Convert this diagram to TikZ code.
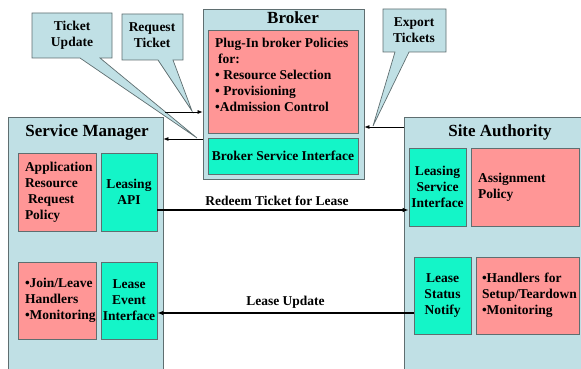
\documentclass[tikz,border=0pt]{standalone}
\usepackage{fontspec}
\setmainfont{Liberation Serif}
\usetikzlibrary{arrows.meta}
\definecolor{lblue}{RGB}{192,224,229}
\definecolor{pinkc}{RGB}{255,150,150}
\definecolor{greenc}{RGB}{20,245,200}
\definecolor{bord}{RGB}{95,110,112}
\begin{document}
\begin{tikzpicture}[x=1pt,y=-1pt,
  font=\bfseries\fontsize{13.5}{16}\selectfont,
  outer/.style={draw=bord, fill=lblue, line width=0.8pt, inner sep=0pt},
  pinkbox/.style={draw=bord, fill=pinkc, line width=0.6pt, align=left, inner xsep=7pt, inner ysep=0pt},
  greenbox/.style={draw=bord, fill=greenc, line width=0.6pt, align=center, inner sep=0pt},
  titletext/.style={font=\bfseries\fontsize{17}{20}\selectfont, inner sep=0pt},
  callout/.style={draw=bord, fill=lblue, line width=0.7pt, line join=miter},
  ctext/.style={align=center, inner sep=0pt},
  arr/.style={line width=1.2pt, -{Latex[length=6pt,width=4.5pt]}},
  thinarr/.style={line width=0.7pt, -{Latex[length=5pt,width=4pt]}},
  lbl/.style={inner sep=0pt}
]
\useasboundingbox (0,0) rectangle (581,369);

% outer boxes
\node[outer, minimum width=161pt, minimum height=170pt] (broker) at (283.5,94) {};
\node[outer, minimum width=155pt, minimum height=283pt] (sm) at (85.5,258.5) {};
\node[outer, minimum width=186pt, minimum height=283pt] (sa) at (497,258.5) {};

% titles
\node[titletext] (brokert) at (293,18) {Broker};
\node[titletext] (smt) at (87,132) {Service Manager};
\node[titletext] (sat) at (500,132) {Site Authority};

% broker inner
\node[pinkbox, minimum width=150pt, minimum height=103pt] (bpol) at (283,81.5) {};
\node[anchor=west, align=left, inner sep=0pt] (bpoltext) at (215,75)
  {Plug-In broker Policies\\\hspace{3pt}for:\\• Resource Selection\\• Provisioning\\•Admission Control};
\node[greenbox, minimum width=150pt, minimum height=36pt] (bsi) at (283,156) {Broker Service Interface};

% service manager inner
\node[pinkbox, minimum height=78pt, text width=64pt] (arp) at (57,192)
  {Application\\Resource\\\hspace{3pt}Request\\Policy};
\node[greenbox, minimum width=56pt, minimum height=78pt] (lapi) at (129,192) {Leasing\\API};
\node[pinkbox, minimum height=77pt, text width=64pt] (jlh) at (57,300.5)
  {•Join/Leave\\Handlers\\•Monitoring};
\node[greenbox, minimum width=56pt, minimum height=77pt] (lei) at (129,300.5) {Lease\\Event\\Interface};

% site authority inner
\node[greenbox, minimum width=57pt, minimum height=78pt] (lsi) at (437.5,187) {Leasing\\Service\\Interface};
\node[pinkbox, minimum height=78pt, text width=94pt] (asp) at (525,187) {Assignment\\Policy};
\node[greenbox, minimum width=57pt, minimum height=77pt] (lsn) at (442.5,295.5) {Lease\\Status\\Notify};
\node[pinkbox, minimum height=77pt, inner xsep=6pt, text width=91pt] (hst) at (527.5,295.5)
  {•Handlers for\\Setup/Teardown\\•Monitoring};

% callouts
\coordinate (tutip) at (197,138);
\coordinate (rttip) at (192,111);
\coordinate (ettip) at (373,126);
\filldraw[callout] (32,13) -- (112,13) -- (112,58) -- (100,58) -- (tutip) -- (80,58) -- (32,58) -- cycle;
\node[ctext] (tu) at (72,35) {Ticket\\Update};
\filldraw[callout] (122,14) -- (183,14) -- (183,60) -- (173,60) -- (rttip) -- (158,60) -- (122,60) -- cycle;
\node[ctext] (rt) at (152,35) {Request\\Ticket};
\filldraw[callout] (383,9) -- (446,9) -- (446,52) -- (409,52) -- (ettip) -- (395,52) -- (383,52) -- cycle;
\node[ctext] (et) at (414,30) {Export\\Tickets};

% connectors
\coordinate (reqs) at (165,112);
\draw[thinarr] (reqs) -- (reqs -| broker.west);
\draw[thinarr] ([yshift=-45pt]broker.west) coordinate (tu1) -- (tu1 -| sm.east);
\draw[thinarr] ([yshift=131.5pt]sa.west) coordinate (ex1) -- (ex1 -| broker.east);

\draw[arr] ([yshift=-18pt]lapi.east) coordinate (rd1) -- (rd1 -| lsi.west)
  node[lbl, pos=0.476, above=4pt] (rdl) {Redeem Ticket for Lease};
\draw[arr] ([yshift=-17.5pt]lsn.west) coordinate (lu1) -- (lu1 -| lei.east)
  node[lbl, pos=0.5, above=4pt] (lul) {Lease Update};
\end{tikzpicture}
\end{document}
